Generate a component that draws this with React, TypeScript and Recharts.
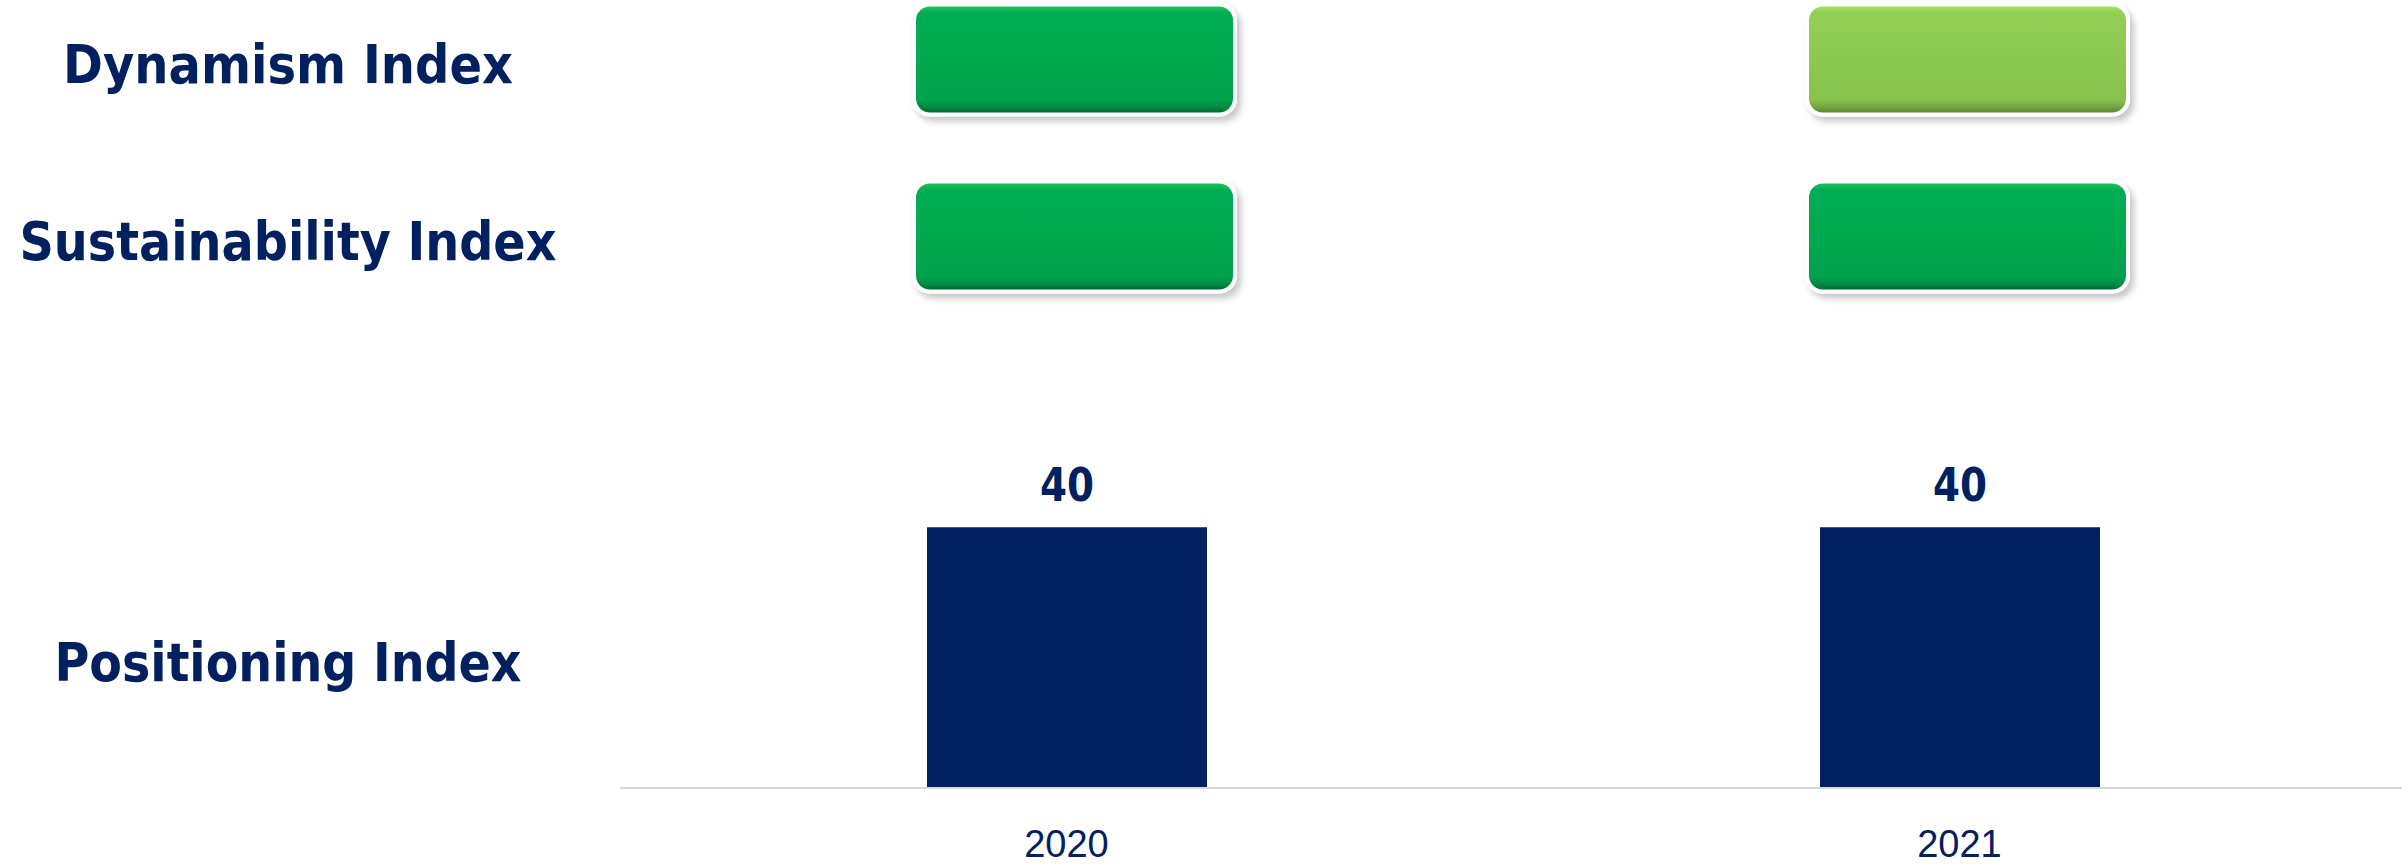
import { Bar, BarChart, LabelList, XAxis, YAxis } from "recharts";

// Scorecard: traffic-light status per year for two indices on top, Positioning Index bars below.

const years = ["2020", "2021"];
const positioningIndex = [40, 40];
const dynamismStatus = ["green", "lightgreen"];
const sustainabilityStatus = ["green", "green"];
const indicatorRows = ["Dynamism Index", "Sustainability Index"];
const barRowLabel = "Positioning Index";

const NAVY = "#002060";
const LABEL_FONT = "Tahoma, 'DejaVu Sans', sans-serif";
const TICK_FONT = "Tahoma, 'Liberation Sans', Arial, sans-serif";

// measured widths of the row labels in the source, so the bold face spans the same room
const labelWidths: Record<string, number> = {
  "Dynamism Index": 450,
  "Sustainability Index": 537,
  "Positioning Index": 467,
};

const statusData = years.map((year, i) => ({
  year,
  dynamism: dynamismStatus[i],
  sustainability: sustainabilityStatus[i],
}));
const positioningData = years.map((year, i) => ({ year, value: positioningIndex[i] }));

const RowLabel = ({ y, text }: { y: number; text: string }) => (
  <text
    x={288}
    y={y + 23}
    textAnchor="middle"
    fill={NAVY}
    fontSize={54}
    fontWeight="bold"
    fontFamily={LABEL_FONT}
    textLength={labelWidths[text]}
    lengthAdjust="spacingAndGlyphs"
  >
    {text}
  </text>
);

const StatusRowTick = (props: any) => (
  <RowLabel y={props.y} text={indicatorRows[Math.floor(props.payload.value)]} />
);

const PositioningTick = (props: any) => <RowLabel y={props.y} text={barRowLabel} />;

const YearTick = (props: any) => (
  <text x={props.x} y={props.y + 67} textAnchor="middle" fill={NAVY} fontSize={38} fontFamily={TICK_FONT}>
    {props.payload.value}
  </text>
);

// value above each bar, in the same heavy face as the row labels
const ValueLabel = (props: any) => {
  const { x, y, width, value } = props;
  return (
    <text
      x={x + width / 2}
      y={y - 26}
      textAnchor="middle"
      fill={NAVY}
      fontSize={46}
      fontWeight="bold"
      fontFamily={LABEL_FONT}
      textLength={54}
      lengthAdjust="spacingAndGlyphs"
    >
      {value}
    </text>
  );
};

// Glossy rounded "button" centred in its stack segment; the colour comes from the row's status.
const statusButton = (key: "dynamism" | "sustainability") => (props: any) => {
  const { x, y, width, height, payload } = props;
  const top = Math.min(y, y + height);
  const cy = top + Math.abs(height) / 2;
  const h = 106;
  const by = cy - h / 2;
  return (
    <g filter="url(#btnShadow)">
      <rect x={x - 4} y={by - 4} width={width + 8} height={h + 8} rx={18} fill="#ffffff" />
      <rect x={x} y={by} width={width} height={h} rx={14} fill={`url(#btn-${payload[key]})`} />
    </g>
  );
};

export default function App() {
  return (
    <div style={{ position: "absolute", left: 0, top: 0, width: 2402, height: 864, overflow: "hidden", background: "#fff" }}>
      <div style={{ position: "absolute", left: 0, top: 0 }}>
        <BarChart width={2410} height={864} data={positioningData} margin={{ top: 397, right: 4, bottom: 0, left: 0 }}>
          <XAxis
            dataKey="year"
            height={76}
            axisLine={{ stroke: "#D9D9D9", strokeWidth: 2 }}
            tickLine={false}
            tickSize={0}
            tick={<YearTick />}
          />
          {/* the row label sits at the bars' mid-height */}
          <YAxis
            width={620}
            domain={[0, 60]}
            ticks={[positioningIndex[0] / 2]}
            axisLine={false}
            tickLine={false}
            tickSize={0}
            tick={<PositioningTick />}
          />
          <Bar dataKey="value" fill={NAVY} barSize={280} isAnimationActive={false}>
            <LabelList dataKey="value" content={<ValueLabel />} />
          </Bar>
        </BarChart>
      </div>
      <div style={{ position: "absolute", left: 0, top: -29 }}>
        <BarChart width={2418} height={354} data={statusData} margin={{ top: 0, right: 4, bottom: 0, left: 0 }}>
          <defs>
            <filter id="btnShadow" x="-10%" y="-20%" width="125%" height="150%">
              <feDropShadow dx={4} dy={5} stdDeviation={3} floodColor="#000" floodOpacity={0.22} />
            </filter>
            <linearGradient id="btn-green" x1="0" y1="0" x2="0" y2="1">
              <stop offset="0" stopColor="#1fc25e" />
              <stop offset="0.06" stopColor="#03ad52" />
              <stop offset="0.5" stopColor="#00a84f" />
              <stop offset="0.88" stopColor="#00a24c" />
              <stop offset="0.95" stopColor="#008a40" />
              <stop offset="1" stopColor="#006b31" />
            </linearGradient>
            <linearGradient id="btn-lightgreen" x1="0" y1="0" x2="0" y2="1">
              <stop offset="0" stopColor="#a3df5f" />
              <stop offset="0.06" stopColor="#93cf55" />
              <stop offset="0.5" stopColor="#8dc951" />
              <stop offset="0.88" stopColor="#87c24d" />
              <stop offset="0.95" stopColor="#73a540" />
              <stop offset="1" stopColor="#5b8631" />
            </linearGradient>
          </defs>
          <XAxis dataKey="year" hide />
          <YAxis
            type="number"
            width={628}
            domain={[0, indicatorRows.length]}
            ticks={indicatorRows.map((_, i) => i + 0.5)}
            reversed
            axisLine={false}
            tickLine={false}
            tickSize={0}
            tick={<StatusRowTick />}
          />
          <Bar
            dataKey={() => 1}
            stackId="status"
            barSize={317}
            shape={statusButton("dynamism")}
            isAnimationActive={false}
          />
          <Bar
            dataKey={() => 1}
            stackId="status"
            barSize={317}
            shape={statusButton("sustainability")}
            isAnimationActive={false}
          />
        </BarChart>
      </div>
    </div>
  );
}
